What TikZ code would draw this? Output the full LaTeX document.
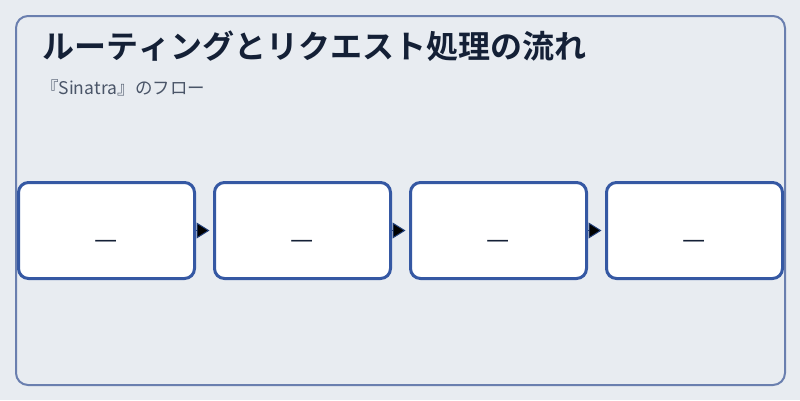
\documentclass[tikz,border=0pt]{standalone}
\usepackage{fontspec}
\usepackage{xcolor}
\usetikzlibrary{arrows.meta}
\newfontfamily\cjk[Kerning=Off]{Noto Sans CJK JP}
\newfontfamily\cjkbold[Kerning=Off]{Noto Sans CJK JP Bold}
\definecolor{pagebg}{HTML}{E8ECF1}
\definecolor{framec}{HTML}{6A7FAF}
\definecolor{boxc}{HTML}{3558A3}
\definecolor{tipc}{HTML}{223F78}
\definecolor{titlec}{HTML}{142036}
\definecolor{subc}{HTML}{4A5568}

\begin{document}
\begin{tikzpicture}[x=1pt,y=-1pt,
  stagebox/.style={draw=boxc,line width=3pt,fill=white,rounded corners=10pt,
    minimum width=176pt,minimum height=96pt,inner sep=0pt},
  dashlabel/.style={font=\cjk\fontsize{26}{26}\selectfont,text=titlec,anchor=base,inner sep=0pt},
  flow/.style={draw=tipc,line width=1pt,-{Triangle[length=13pt,width=16pt]},shorten >=3.5pt}]
\useasboundingbox (0,0) rectangle (800,400);
\fill[pagebg] (0,0) rectangle (800,400);
\draw[framec,line width=2pt,rounded corners=12pt] (16,16) rectangle (785,385);

\node[anchor=base west,inner sep=0pt,text=titlec,font=\cjkbold\fontsize{32}{32}\selectfont] (title) at (42,58) {ルーティングとリクエスト処理の流れ};
\node[anchor=base west,inner sep=0pt,text=subc,font=\cjk\fontsize{17.5}{17.5}\selectfont] (sub) at (41,94) {『Sinatra』のフロー};

\node[stagebox] (1) at (106.5,230.5) {};
\node[stagebox] (2) at (302.5,230.5) {};
\node[stagebox] (3) at (498.5,230.5) {};
\node[stagebox] (4) at (694.5,230.5) {};

\node[dashlabel] (d1) at (106.5,248) {—};
\node[dashlabel] (d2) at (302.5,248) {—};
\node[dashlabel] (d3) at (498.5,248) {—};
\node[dashlabel] (d4) at (694.5,248) {—};

\draw[flow] (1) edge[] (2) ;
\draw[flow] (2) edge[] (3) ;
\draw[flow] (3) edge[] (4) ;
\end{tikzpicture}
\end{document}
